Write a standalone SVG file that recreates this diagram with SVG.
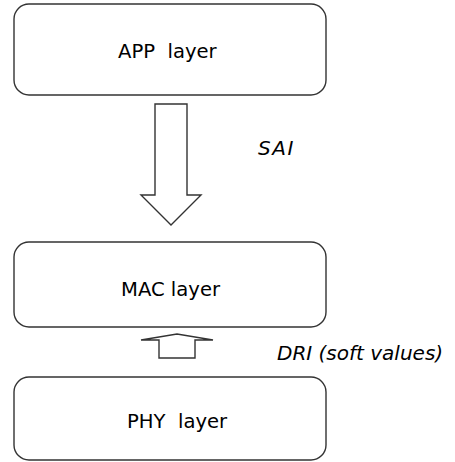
<svg xmlns="http://www.w3.org/2000/svg" width="455" height="462" viewBox="0 0 455 462">
<style>
.box{fill:#fff;stroke:#333;stroke-width:1.4}
.arrow{fill:#fff;stroke:#333;stroke-width:1.4;stroke-linejoin:miter}
.lbl{font-family:"DejaVu Sans",Verdana,sans-serif;font-size:19.6px;fill:#000;white-space:pre}
.it{font-family:"DejaVu Sans",Verdana,sans-serif;font-size:20px;font-style:italic;fill:#000;white-space:pre}
</style>
<rect width="455" height="462" fill="#fff"/>
<g id="app">
<rect class="box" x="14" y="4" width="312" height="91" rx="15" ry="15"/>
<text class="lbl" x="118" y="57.5" xml:space="preserve">APP  layer</text>
</g>
<g id="mac">
<rect class="box" x="14" y="242" width="312" height="85" rx="15" ry="15"/>
<text class="lbl" x="121" y="296">MAC layer</text>
</g>
<g id="phy">
<rect class="box" x="14" y="377" width="312" height="83" rx="15" ry="15"/>
<text class="lbl" x="127" y="428" xml:space="preserve">PHY  layer</text>
</g>
<g id="connectors">
<polygon class="arrow" points="155,104 187,104 187,195 201,195 171,225 141,195 155,195"/>
<text class="it" x="258" y="155" letter-spacing="1.5">SAI</text>
<polygon class="arrow" points="159,358 195,358 195,340 213,340 177,334 141,340 159,340"/>
<text class="it" x="277" y="360">DRI (soft values)</text>
</g>
</svg>
